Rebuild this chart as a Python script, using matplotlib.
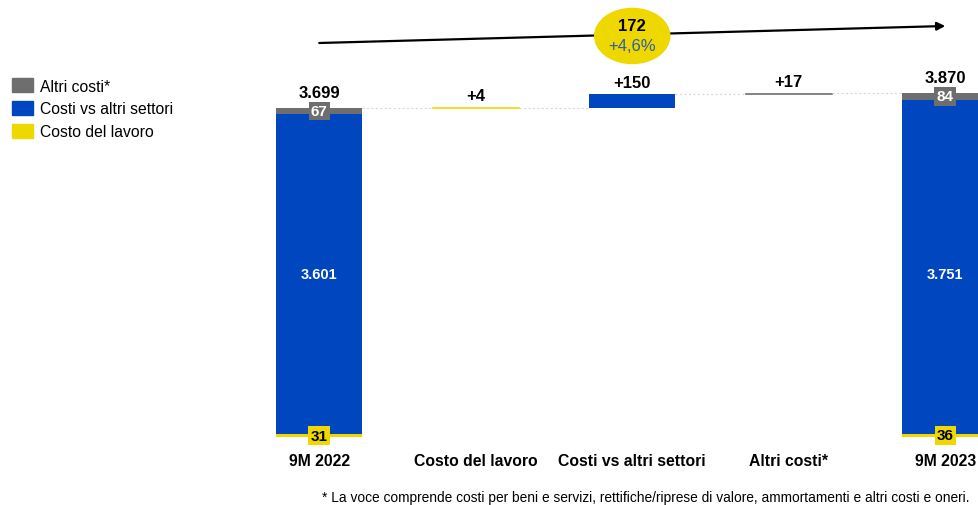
import matplotlib.pyplot as plt
from matplotlib.patches import Patch, Ellipse

plt.rcParams['font.family'] = ['Liberation Sans', 'DejaVu Sans']

# data
categories = ['9M 2022', 'Costo del lavoro', 'Costi vs altri settori', 'Altri costi*', '9M 2023']
series = ['Costo del lavoro', 'Costi vs altri settori', 'Altri costi*']
start_vals = [31, 3601, 67]
end_vals = [36, 3751, 84]
deltas = [4, 150, 17]
totals = [3699, 3870]
total_change = 172
total_change_pct = '+4,6%'
footnote = ('* La voce comprende costi per beni e servizi, rettifiche/riprese di valore, '
            'ammortamenti e altri costi e oneri.')

colors = ['#EED800', '#0046BE', '#6E6E6E']
label_style = [('black', '#EED800'), ('white', '#0046BE'), ('white', '#6E6E6E')]


def fmt(v):
    return f'{v:,}'.replace(',', '.')


fig = plt.figure(figsize=(9.79, 5.06), dpi=100)
W, H = 979, 506
left_px, right_px, bottom_px, top_px = 241, 979, 438, 20
ax = fig.add_axes([left_px / W, 1 - bottom_px / H, (right_px - left_px) / W,
                   (bottom_px - top_px) / H])
x_scale = 156.5
ax.set_xlim(-0.5, -0.5 + (right_px - left_px) / x_scale)
ax.set_ylim(0, (bottom_px - top_px) / 0.08894)
ax.axis('off')
bw = 0.55

# stacked start and end bars
for xi, vals in [(0, start_vals), (4, end_vals)]:
    bottom = 0
    for i, v in enumerate(vals):
        ax.bar(xi, v, bw, bottom=bottom, color=colors[i], edgecolor='none')
        tc, bc = label_style[i]
        if i == 1:
            ax.text(xi, 1830, fmt(v), ha='center', va='center', color='white',
                    fontsize=10.5, fontweight='bold')
        else:
            ax.text(xi, bottom + v / 2, fmt(v), ha='center', va='center', color=tc,
                    fontsize=11, fontweight='bold',
                    bbox=dict(boxstyle='square,pad=0.15', fc=bc, ec='none'))
        bottom += v

tot_pos = {0: totals[0], 4: totals[1]}
for xi, t in tot_pos.items():
    ax.annotate(fmt(t), (xi, t), xytext=(0, 5.5), textcoords='offset points',
                ha='center', va='bottom', fontsize=12, fontweight='bold')

# floating delta bars
level = totals[0]
for j, d in enumerate(deltas):
    xi = j + 1
    c = colors[j]
    if d < 20:
        ax.plot([xi - bw / 2, xi + bw / 2], [level + d / 2] * 2, color=c, lw=1.2)
    else:
        ax.bar(xi, d, bw, bottom=level, color=c, edgecolor='none')
    # connector
    ax.plot([xi - 1 + bw / 2, xi - bw / 2], [level, level], color='#D8D8D8',
            lw=0.8, ls=(0, (2, 2)))
    level += d
    ax.annotate(f'+{d}', (xi, level), xytext=(0, 3), textcoords='offset points',
                ha='center', va='bottom', fontsize=12, fontweight='bold')
ax.plot([3 + bw / 2, 4 - bw / 2], [level, level], color='#D8D8D8', lw=0.8,
        ls=(0, (2, 2)))

# category labels
for xi, c in enumerate(categories):
    ax.text(xi, -260, c, ha='center', va='center', fontsize=11.3, fontweight='bold')

# trend arrow and bubble
ax.annotate('', xy=(4.0, 4621), xytext=(0, 4430),
            arrowprops=dict(arrowstyle='-|>', color='black', lw=1.6,
                            mutation_scale=12, shrinkA=0, shrinkB=0),
            annotation_clip=False)
ax.add_patch(Ellipse((2.0, 4509), 0.48, 620, color='#EED800', zorder=3, clip_on=False))
ax.text(2.0, 4625, str(total_change), ha='center', va='center', fontsize=12,
        fontweight='bold', zorder=4)
ax.text(2.0, 4400, total_change_pct, ha='center', va='center', fontsize=12,
        color='#2E5FA8', zorder=4)

# legend
handles = [Patch(color=colors[i]) for i in [2, 1, 0]]
fig.legend(handles, [series[i] for i in [2, 1, 0]], loc='upper left',
           bbox_to_anchor=(0.006, 0.856), frameon=False, fontsize=11.3,
           handlelength=1.35, handleheight=1.0, handletextpad=0.45,
           labelspacing=0.48, borderaxespad=0)

fig.text(970 / W, 1 - 498 / H, footnote, ha='right', va='center', fontsize=9.9)

fig.savefig('out.png', dpi=100)
